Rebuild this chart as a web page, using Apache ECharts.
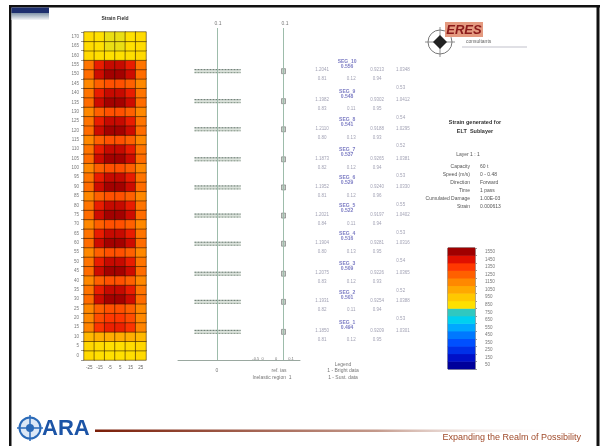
<!DOCTYPE html>
<html>
<head>
<meta charset="utf-8">
<script src="https://cdn.jsdelivr.net/npm/echarts@6/dist/echarts.min.js"></script>
<style>
html,body{margin:0;padding:0;background:#fff;}
#chart{width:602px;height:446px;}
</style>
</head>
<body>
<div id="chart"></div>
<script>
// ---------- DATA ----------
var heatCols = ['-25', '-15', '-5', '5', '15', '25'];
var heatRowLabels = ['0','5','10','15','20','25','30','35','40','45','50','55','60','65','70','75','80','85','90','95','100','105','110','115','120','125','130','135','140','145','150','155','160','165','170'];
// rows listed from bottom (row 0) to top (row 34), values per column
var heatRows = [
  [880, 860, 850, 850, 860, 880],
  [890, 870, 860, 860, 870, 890],
  [1000, 1030, 1040, 1040, 1030, 1000],
  [1160, 1360, 1410, 1410, 1360, 1160],
  [1150, 1300, 1350, 1350, 1300, 1150],
  [1150, 1250, 1290, 1290, 1250, 1150],
  [1220, 1480, 1545, 1545, 1480, 1220],
  [1200, 1420, 1490, 1490, 1420, 1200],
  [1150, 1250, 1290, 1290, 1250, 1150],
  [1220, 1480, 1545, 1545, 1480, 1220],
  [1200, 1420, 1490, 1490, 1420, 1200],
  [1150, 1250, 1290, 1290, 1250, 1150],
  [1220, 1480, 1545, 1545, 1480, 1220],
  [1200, 1420, 1490, 1490, 1420, 1200],
  [1150, 1250, 1290, 1290, 1250, 1150],
  [1220, 1480, 1545, 1545, 1480, 1220],
  [1200, 1420, 1490, 1490, 1420, 1200],
  [1150, 1250, 1290, 1290, 1250, 1150],
  [1220, 1480, 1545, 1545, 1480, 1220],
  [1200, 1420, 1490, 1490, 1420, 1200],
  [1150, 1250, 1290, 1290, 1250, 1150],
  [1220, 1480, 1545, 1545, 1480, 1220],
  [1200, 1420, 1490, 1490, 1420, 1200],
  [1150, 1250, 1290, 1290, 1250, 1150],
  [1220, 1480, 1545, 1545, 1480, 1220],
  [1200, 1420, 1490, 1490, 1420, 1200],
  [1150, 1250, 1290, 1290, 1250, 1150],
  [1220, 1480, 1545, 1545, 1480, 1220],
  [1200, 1420, 1490, 1490, 1420, 1200],
  [1150, 1250, 1290, 1290, 1250, 1150],
  [1220, 1480, 1545, 1545, 1480, 1220],
  [1200, 1420, 1490, 1490, 1420, 1200],
  [880, 860, 850, 850, 860, 880],
  [870, 850, 840, 840, 850, 870],
  [870, 850, 840, 840, 850, 870]
];

// middle profile: horizontal bars at each sublayer level
var barLevels = [154, 138, 123, 107, 92, 77, 62, 46, 31, 15];
var barStart = [-0.35, -0.35, -0.35, -0.35, -0.35, -0.35, -0.35, -0.35, -0.35, -0.35];
var barEnd   = [0.35, 0.35, 0.35, 0.35, 0.35, 0.35, 0.35, 0.35, 0.35, 0.35];
var refLines = [0, 1];

// annotations per level
var segNames  = ['SEG_10','SEG_9','SEG_8','SEG_7','SEG_6','SEG_5','SEG_4','SEG_3','SEG_2','SEG_1'];
var segSub    = ['0.556','0.548','0.541','0.537','0.529','0.522','0.516','0.509','0.501','0.494'];
var colA      = ['1.2041','1.1982','1.2110','1.1873','1.1952','1.2021','1.1904','1.2075','1.1931','1.1850'];
var colB      = ['0.9213','0.9302','0.9188','0.9265','0.9240','0.9197','0.9281','0.9226','0.9254','0.9209'];
var colC      = ['1.0348','1.0412','1.0295','1.0381','1.0330','1.0402','1.0316','1.0365','1.0388','1.0301'];
var row2A     = ['0.81','0.83','0.80','0.82','0.81','0.84','0.80','0.83','0.82','0.81'];
var row2B     = ['0.12','0.11','0.13','0.12','0.12','0.11','0.13','0.12','0.11','0.12'];
var row2C     = ['0.94','0.95','0.93','0.94','0.96','0.94','0.95','0.93','0.94','0.95'];
var loneVal   = ['0.53','0.54','0.52','0.53','0.55','0.53','0.54','0.52','0.53',''];

// colour bar
var cbLevels = [50,150,250,350,450,550,650,750,850,950,1050,1150,1250,1350,1450,1550];
var cbLabels = ['50','150','250','350','450','550','650','750','850','950','1050','1150','1250','1350','1450','1550'];
var jet = ['#00009a','#0010c8','#0030e8','#0050ff','#0078ff','#00a8ff','#00d0f0','#30c8c0',
           '#ffe000','#ffc800','#ffa800','#ff8800','#ff6000','#ff3800','#e01000','#a00000'];

// info table
var infoLabels = ['Capacity','Speed (m/s)','Direction','Time','Cumulated Damage','Strain'];
var infoValues = ['60 t','0 - 0.48','Forward','1 pass','1.00E-03','0.000613'];

// ---------- BUILD ----------
var heatData = [];
heatRows.forEach(function (row, r) {
  row.forEach(function (v, c) { heatData.push([c, r, v]); });
});
var barData = barLevels.map(function (l, i) { return [barStart[i], barEnd[i], l]; });
var markData = barLevels.map(function (l) { return [1, l]; });

var annData = [];
barLevels.forEach(function (l, i) {
  annData.push({ value: [1.35, l + 3.8], name: segNames[i] + '\n' + segSub[i], kind: 'seg' });
  annData.push({ value: [0.44, l + 0.5], name: colA[i] });
  annData.push({ value: [2.44, l + 0.5], name: colB[i] });
  annData.push({ value: [3.38, l + 0.5], name: colC[i] });
  annData.push({ value: [0.44, l - 4.3], name: row2A[i] });
  annData.push({ value: [1.5, l - 4.3], name: row2B[i] });
  annData.push({ value: [2.44, l - 4.3], name: row2C[i] });
  if (loneVal[i]) annData.push({ value: [3.3, l - 9], name: loneVal[i] });
});
annData.forEach(function (d) {
  if (d.kind === 'seg') {
    d.label = { color: '#5a5ab4', fontWeight: 'bold', fontSize: 5, lineHeight: 5 };
  }
});
var cbData = cbLevels.map(function (v, i) { return [0, i, v]; });

var F = 'Liberation Sans, Arial, sans-serif';
var chart = echarts.init(document.getElementById('chart'));

var graphics = [
  // slide frame
  { type: 'rect', shape: { x: 9, y: 5, width: 591, height: 2.5 }, style: { fill: '#111' }, z: 10 },
  { type: 'rect', shape: { x: 9, y: 5, width: 2.5, height: 441 }, style: { fill: '#111' }, z: 10 },
  { type: 'rect', shape: { x: 596.5, y: 5, width: 3, height: 441 }, style: { fill: '#111' }, z: 10 },
  { type: 'rect', shape: { x: 11.5, y: 7.5, width: 37.5, height: 5.5 }, style: { fill: '#1d2f6e' }, z: 10 },
  { type: 'rect', shape: { x: 11.5, y: 13, width: 37.5, height: 7 },
    style: { fill: new echarts.graphic.LinearGradient(0, 0, 0, 1, [{ offset: 0, color: '#7f93a8' }, { offset: 1, color: '#f4f6f8' }]) }, z: 10 },

  // heatmap title
  { type: 'text', x: 115, y: 19, style: { text: 'Strain Field', font: 'bold 5px ' + F, fill: '#333', align: 'center', verticalAlign: 'middle' } },

  // middle axis texts
  { type: 'text', x: 218, y: 24, style: { text: '0.1', font: '5px ' + F, fill: '#777', align: 'center', verticalAlign: 'middle' } },
  { type: 'text', x: 285, y: 24, style: { text: '0.1', font: '5px ' + F, fill: '#777', align: 'center', verticalAlign: 'middle' } },
  { type: 'text', x: 258, y: 359, style: { text: '-0.5  0', font: '4px ' + F, fill: '#777', align: 'center', verticalAlign: 'middle', backgroundColor: '#fff' } },
  { type: 'text', x: 276, y: 359, style: { text: '0', font: '4px ' + F, fill: '#777', align: 'center', verticalAlign: 'middle', backgroundColor: '#fff' } },
  { type: 'text', x: 291, y: 359, style: { text: '0.1', font: '4px ' + F, fill: '#777', align: 'center', verticalAlign: 'middle', backgroundColor: '#fff' } },
  { type: 'text', x: 217, y: 371, style: { text: '0', font: '5px ' + F, fill: '#777', align: 'center', verticalAlign: 'middle' } },
  { type: 'text', x: 279, y: 371, style: { text: 'ref. ias', font: '5px ' + F, fill: '#777', align: 'center', verticalAlign: 'middle' } },
  { type: 'text', x: 272, y: 378, style: { text: 'Inelastic region  1', font: '5px ' + F, fill: '#777', align: 'center', verticalAlign: 'middle' } },
  { type: 'text', x: 343, y: 365, style: { text: 'Legend', font: '5px ' + F, fill: '#777', align: 'center', verticalAlign: 'middle' } },
  { type: 'text', x: 343, y: 371, style: { text: '1 - Bright data', font: '5px ' + F, fill: '#777', align: 'center', verticalAlign: 'middle' } },
  { type: 'text', x: 343, y: 378, style: { text: '1 - Sust. data', font: '5px ' + F, fill: '#777', align: 'center', verticalAlign: 'middle' } },

  // ERES logo
  { type: 'circle', shape: { cx: 440, cy: 42, r: 12 }, style: { fill: '#fff', stroke: '#777', lineWidth: 1 } },
  { type: 'line', shape: { x1: 425, y1: 42, x2: 455, y2: 42 }, style: { stroke: '#777', lineWidth: 0.8 } },
  { type: 'line', shape: { x1: 440, y1: 27, x2: 440, y2: 57 }, style: { stroke: '#777', lineWidth: 0.8 } },
  { type: 'polygon', shape: { points: [[440, 35], [447, 42], [440, 49], [433, 42]] }, style: { fill: '#222' } },
  { type: 'rect', shape: { x: 445, y: 22, width: 38, height: 15 }, style: { fill: '#e49a80' } },
  { type: 'text', x: 464, y: 30, style: { text: 'ERES', font: 'italic bold 13px ' + F, fill: '#8b1a1a', align: 'center', verticalAlign: 'middle' } },
  { type: 'text', x: 466, y: 42, style: { text: 'consultants', font: '5px ' + F, fill: '#666', align: 'left', verticalAlign: 'middle' } },
  { type: 'line', shape: { x1: 462, y1: 47, x2: 527, y2: 47 }, style: { stroke: '#99a', lineWidth: 0.6 } },

  // info panel
  { type: 'text', x: 475, y: 122, style: { text: 'Strain generated for', font: 'bold 5.5px ' + F, fill: '#333', align: 'center', verticalAlign: 'middle' } },
  { type: 'text', x: 475, y: 131, style: { text: 'ELT  Sublayer', font: 'bold 5.5px ' + F, fill: '#333', align: 'center', verticalAlign: 'middle' } },
  { type: 'text', x: 468, y: 155, style: { text: 'Layer 1 : 1', font: '5px ' + F, fill: '#555', align: 'center', verticalAlign: 'middle' } },

  // footer
  { type: 'circle', shape: { cx: 30, cy: 428, r: 10.5 }, style: { fill: '#dce8f6', stroke: '#2a6ab8', lineWidth: 2 } },
  { type: 'line', shape: { x1: 17, y1: 428, x2: 43, y2: 428 }, style: { stroke: '#2a6ab8', lineWidth: 1.5 } },
  { type: 'line', shape: { x1: 30, y1: 415, x2: 30, y2: 441 }, style: { stroke: '#2a6ab8', lineWidth: 1.5 } },
  { type: 'circle', shape: { cx: 30, cy: 428, r: 4 }, style: { fill: '#2a6ab8' } },
  { type: 'text', x: 42, y: 429, style: { text: 'ARA', font: 'bold 22px ' + F, fill: '#1c54a6', align: 'left', verticalAlign: 'middle' } },
  { type: 'rect', shape: { x: 95, y: 429.5, width: 470, height: 2.5 },
    style: { fill: new echarts.graphic.LinearGradient(0, 0, 1, 0, [{ offset: 0, color: '#7a1e08' }, { offset: 0.6, color: '#c49a8c' }, { offset: 1, color: 'rgba(255,255,255,0)' }]) } },
  { type: 'text', x: 581, y: 438, style: { text: 'Expanding the Realm of Possibility', font: '9px ' + F, fill: '#a04a2a', align: 'right', verticalAlign: 'middle' } }
];
var infoY = [167, 175, 183, 191, 199, 207];
infoLabels.forEach(function (t, i) {
  graphics.push({ type: 'text', x: 470, y: infoY[i], style: { text: t, font: '5px ' + F, fill: '#555', align: 'right', verticalAlign: 'middle' } });
  graphics.push({ type: 'text', x: 480, y: infoY[i], style: { text: infoValues[i], font: '5px ' + F, fill: '#555', align: 'left', verticalAlign: 'middle' } });
});

chart.setOption({
  animation: false,
  backgroundColor: '#fff',
  textStyle: { fontFamily: F },
  visualMap: {
    show: false, type: 'continuous', min: 50, max: 1550, seriesIndex: [0, 3],
    inRange: { color: jet }
  },
  grid: [
    { left: 84, top: 32, width: 62, height: 328 },
    { left: 178, top: 28, width: 122, height: 332 },
    { left: 310, top: 28, width: 110, height: 332 },
    { left: 448, top: 248, width: 27, height: 121, show: true, borderColor: '#444', borderWidth: 1, backgroundColor: 'transparent' }
  ],
  xAxis: [
    { gridIndex: 0, type: 'category', data: heatCols, axisLine: { show: false }, axisTick: { show: false },
      axisLabel: { fontSize: 4.5, color: '#666', margin: 5 } },
    { gridIndex: 1, type: 'value', min: -0.6, max: 1.25, splitLine: { show: false },
      axisLine: { show: true, lineStyle: { color: '#9aa8a0', width: 1 } }, axisTick: { show: false }, axisLabel: { show: false } },
    { gridIndex: 2, type: 'value', min: 0, max: 4, show: false },
    { gridIndex: 3, type: 'category', data: ['c'], show: false }
  ],
  yAxis: [
    { gridIndex: 0, type: 'category', data: heatRowLabels, axisLine: { show: false },
      axisTick: { show: true, length: 3, lineStyle: { color: '#999' } },
      axisLabel: { fontSize: 4.5, color: '#777', margin: 5 } },
    { gridIndex: 1, type: 'value', min: 0, max: 177, show: false },
    { gridIndex: 2, type: 'value', min: 0, max: 177, show: false },
    { gridIndex: 3, type: 'category', data: cbLabels, position: 'right',
      axisLine: { show: false }, axisTick: { show: true, length: 2, lineStyle: { color: '#999' } },
      axisLabel: { fontSize: 4.5, color: '#777', margin: 10 } }
  ],
  series: [
    { type: 'heatmap', xAxisIndex: 0, yAxisIndex: 0, data: heatData,
      itemStyle: { borderColor: 'rgba(40,20,0,0.75)', borderWidth: 0.7 } },
    { type: 'custom', xAxisIndex: 1, yAxisIndex: 1, data: barData,
      renderItem: function (params, api) {
        var p1 = api.coord([api.value(0), api.value(2)]);
        var p2 = api.coord([api.value(1), api.value(2)]);
        return { type: 'group', children: [
          { type: 'rect', shape: { x: p1[0], y: p1[1] - 2, width: p2[0] - p1[0], height: 4 }, style: { fill: '#dce3dc' } },
          { type: 'line', shape: { x1: p1[0], y1: p1[1] - 1.5, x2: p2[0], y2: p1[1] - 1.5 }, style: { stroke: '#62736a', lineWidth: 1, lineDash: [2, 1] } },
          { type: 'line', shape: { x1: p1[0], y1: p1[1] + 1.5, x2: p2[0], y2: p1[1] + 1.5 }, style: { stroke: '#809184', lineWidth: 1, lineDash: [2, 1] } }
        ] };
      },
      markLine: { silent: true, symbol: 'none', label: { show: false },
        lineStyle: { color: '#9dbcab', width: 1, type: 'solid' },
        data: refLines.map(function (v) { return { xAxis: v }; }) }
    },
    { type: 'scatter', xAxisIndex: 1, yAxisIndex: 1, data: markData, symbol: 'rect', symbolSize: [4, 5],
      itemStyle: { color: '#b8c0b8', borderColor: '#555', borderWidth: 0.6 } },
    { type: 'heatmap', xAxisIndex: 3, yAxisIndex: 3, data: cbData, itemStyle: { borderWidth: 0 } },
    { type: 'scatter', xAxisIndex: 2, yAxisIndex: 2, data: annData, symbolSize: 0,
      label: { show: true, position: 'inside', formatter: '{b}', fontSize: 4.5, color: '#8a8aa0', lineHeight: 5 } }
  ],
  graphic: graphics
});
</script>
</body>
</html>
